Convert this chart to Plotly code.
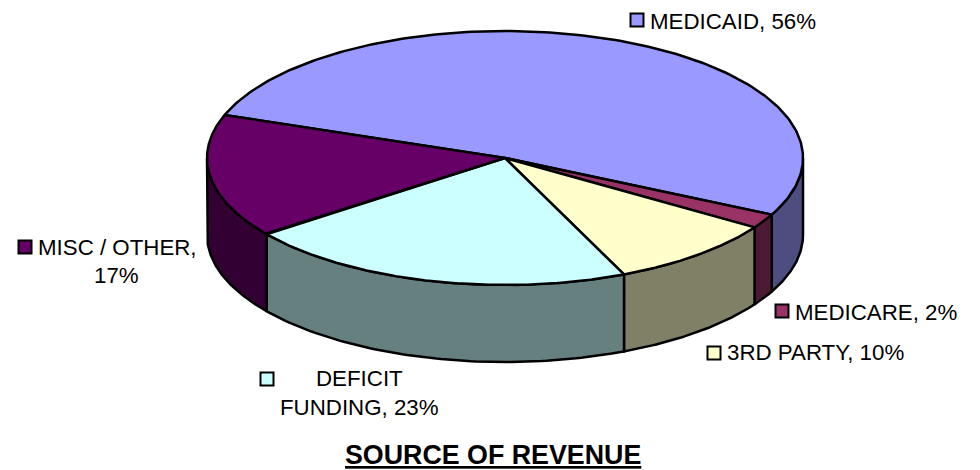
import numpy as np
import plotly.graph_objects as go

# --- data -----------------------------------------------------------------
categories = ["MEDICAID", "MEDICARE", "3RD PARTY", "DEFICIT FUNDING", "MISC / OTHER"]
values = [56, 2, 10, 23, 17]
top_colors = ["#9999FF", "#993366", "#FFFFCC", "#CCFFFF", "#660066"]
side_colors = ["#4D4D80", "#4D1A33", "#808066", "#668080", "#330033"]
title_text = "SOURCE OF REVENUE"

# --- geometry of the tilted pie (pixels on a 980x470 axis) ----------------
CX, CY, RX, RY, DEPTH = 505, 158, 298, 127, 77
START = 199.8
FONT = "Liberation Sans, Arial, sans-serif"


def ex(t):
    return CX + RX * np.cos(np.radians(t))


def ey(t, drop=0):
    return CY + RY * np.sin(np.radians(t)) + drop


fractions = np.array(values, dtype=float) / sum(values)
edges = START + np.concatenate([[0], np.cumsum(fractions) * 360])

fig = go.Figure()


def poly(x, y, color):
    fig.add_trace(go.Scatter(
        x=list(x), y=list(y), mode="lines", fill="toself", fillcolor=color,
        line=dict(color="black", width=2.5), hoverinfo="skip", showlegend=False,
    ))


# side walls: only the front half of the rim (0..180 degrees, modulo 360)
for k in range(len(values)):
    a0, a1 = edges[k], edges[k + 1]
    for shift in (0, -360):
        lo, hi = max(a0 + shift, 0), min(a1 + shift, 180)
        if hi > lo:
            t = np.linspace(lo, hi, 80)
            poly(np.concatenate([ex(t), ex(t[::-1]), ex(t[:1])]),
                 np.concatenate([ey(t), ey(t[::-1], DEPTH), ey(t[:1])]),
                 side_colors[k])

# top faces
for k in range(len(values)):
    t = np.linspace(edges[k], edges[k + 1], 200)
    poly(np.concatenate([[CX], ex(t), [CX]]),
         np.concatenate([[CY], ey(t), [CY]]), top_colors[k])

# label placement: key square centre, then text lines (text, x, y, anchor)
label_layout = [
    ((637, 20), [(f"{categories[0]}, {values[0]}%", 648, 21, "left")]),
    ((782, 311), [(f"{categories[1]}, {values[1]}%", 793, 312, "left")]),
    ((714, 353), [(f"{categories[2]}, {values[2]}%", 725, 352, "left")]),
    ((267, 379), [("DEFICIT", 359, 378, "center"),
                  (f"FUNDING, {values[3]}%", 359, 407, "center")]),
    ((25, 247), [(f"{categories[4]},", 117, 247, "center"),
                 (f"{values[4]}%", 116, 275, "center")]),
]

annotations = []
for k, (key, lines) in enumerate(label_layout):
    fig.add_trace(go.Scatter(
        x=[key[0]], y=[key[1]], mode="markers", hoverinfo="skip", showlegend=False,
        marker=dict(symbol="square", size=13, color=top_colors[k],
                    line=dict(color="black", width=2)),
    ))
    for text, x, y, anchor in lines:
        annotations.append(dict(
            x=x, y=y, xref="x", yref="y", text=text, showarrow=False,
            xanchor=anchor, yanchor="middle",
            font=dict(family=FONT, size=22.3, color="black"),
        ))

annotations.append(dict(
    x=493, y=455, xref="x", yref="y", text=f"<b><u>{title_text}</u></b>",
    showarrow=False, xanchor="center", yanchor="middle",
    font=dict(family=FONT, size=26.8, color="black"),
))

fig.update_layout(
    width=980, height=470, margin=dict(l=0, r=0, t=0, b=0),
    paper_bgcolor="white", plot_bgcolor="white",
    xaxis=dict(range=[0, 980], visible=False, fixedrange=True),
    yaxis=dict(range=[470, 0], visible=False, fixedrange=True),
    annotations=annotations, showlegend=False,
)
fig.write_html("out.html", config=dict(displayModeBar=False),
               post_script="document.body.style.margin='0';document.documentElement.style.overflow='hidden';")
